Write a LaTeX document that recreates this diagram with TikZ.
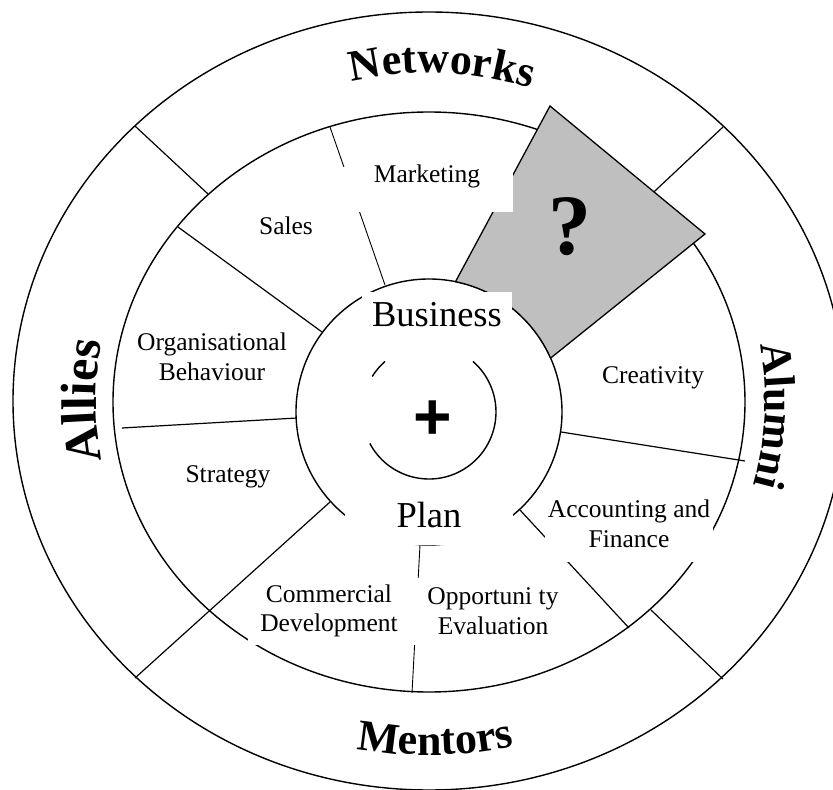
\documentclass[tikz,border=0pt]{standalone}
\usepackage{fontspec}
\setmainfont{Liberation Serif}
\newfontfamily\plusfont{Liberation Sans}
\usetikzlibrary{decorations.text}

\newcommand{\topicfont}{\fontsize{25.5}{29.5}\selectfont}
\newcommand{\titlefont}{\fontsize{36.5}{40}\selectfont}
\newcommand{\ringfont}{\bfseries\fontsize{44}{44}\selectfont}
\newcommand{\alliesfont}{\bfseries\fontsize{50}{50}\selectfont}

\begin{document}
\begin{tikzpicture}[x=1pt,y=1pt,
	ring/.style={line width=1.4pt},
	spoke/.style={line width=1.2pt},
	thinspoke/.style={line width=0.9pt},
	topic/.style={font=\topicfont,align=center,inner sep=0pt},
	maskbox/.style={topic,fill=white},
	ringlabel/.style={decorate,decoration={text along path,text align=center,text={#1}}}
	]
	\useasboundingbox (-429,-389) rectangle (404,401);
	% rings
	\draw[ring] (0,0) ellipse[x radius=416,y radius=389];
	\draw[ring] (0,-1) ellipse[x radius=316,y radius=290];
	\draw[ring] (0,-11) circle[radius=133];
	% spoke ends
	\coordinate (sm-out) at (-99,274);   \coordinate (sm-in) at (-44,116);
	\coordinate (os-out) at (-251,174);  \coordinate (os-in) at (-107,69);
	\coordinate (so-out) at (-307,-27);  \coordinate (so-in) at (-132,-17);
	\coordinate (cs-out) at (-294,-277); \coordinate (cs-in) at (-99,-101);
	\coordinate (oc-out) at (-17,-292);  \coordinate (oc-in) at (-9,-144);
	\coordinate (ao-out) at (200,-227);  \coordinate (ao-in) at (91,-109);
	\coordinate (ca-out) at (316,-60);   \coordinate (ca-in) at (132,-31);
	\coordinate (nw-out) at (-294,275);  \coordinate (nw-in) at (-221,207);
	\coordinate (ne-out) at (294,274);   \coordinate (ne-in) at (211,196);
	\coordinate (se-out) at (294,-278);  \coordinate (se-in) at (222,-209);
	\draw[thinspoke] (sm-out) -- (sm-in);
	\draw[spoke] (os-out) -- (os-in);
	\draw[spoke] (so-out) -- (so-in);
	\draw[spoke] (cs-out) -- (cs-in);
	\draw[thinspoke] (oc-out) -- (oc-in);
	\draw[spoke] (ao-out) -- (ao-in);
	\draw[spoke] (ca-out) -- (ca-in);
	\draw[spoke] (nw-out) -- (nw-in);
	\draw[spoke] (ne-out) -- (ne-in);
	\draw[spoke] (se-out) -- (se-in);
	% the open sector
	\filldraw[fill=black!25,line width=1.3pt] (121,295) -- (276,167) -- ([shift={(0,-11)}]23.9:133)
		arc[start angle=23.9,end angle=78.5,radius=133] -- cycle;
	\draw[ring] ([shift={(0,-11)}]131:67) arc[start angle=131,end angle=148,radius=67];
	\draw[ring] ([shift={(0,-11)}]208:67) arc[start angle=208,end angle=409,radius=67];
	% sectors
	\node[topic] (sales) at (-143,175) {Sales};
	\node[maskbox,anchor=base,text height=16pt,text depth=29pt,minimum width=172pt] (marketing) at (-2,218) {Marketing};
	\node[topic] (orgbeh) at (-217,44) {Organisational\\Behaviour};
	\node[topic] (strategy) at (-201,-76) {Strategy};
	\node[topic] (creativity) at (224,23) {Creativity};
	\node[maskbox,minimum width=167pt,minimum height=76pt] (accfin) at (200,-123) {Accounting and\\Finance};
	\node[maskbox,minimum width=162pt,minimum height=67pt] (oppeval) at (64,-210) {Opportuni ty\\Evaluation};
	\node[maskbox,minimum width=162pt,minimum height=67pt] (comdev) at (-100,-210) {Commercial\\Development};
	\node[maskbox,font=\titlefont,anchor=base,text height=35pt,text depth=34pt,minimum width=150pt] (business) at (8,74) {Business};
	\node[maskbox,font=\titlefont,anchor=base,text height=31pt,text depth=18pt,minimum width=168pt] (plan) at (0,-126) {Plan};
	\node[font=\bfseries\fontsize{86}{86}\selectfont] (unknown) at (141,174) {?};
	\node[font=\plusfont\bfseries\fontsize{66}{66}\selectfont] (plus) at (4,-19) {+};
	% outer ring
	\path[ringlabel={|\ringfont|Networks}] (147.8:338 and 328) arc[start angle=147.8,end angle=27.8,x radius=338,y radius=328];
	\path[ringlabel={|\ringfont|Alumni}] (40:336 and 321) arc[start angle=40,end angle=-45,x radius=336,y radius=321];
	\path[ringlabel={|\alliesfont|Allies}] (225:333 and 321) arc[start angle=225,end angle=135,x radius=333,y radius=321];
	\path[ringlabel={|\ringfont|Mentors}] (226:380 and 354) arc[start angle=226,end angle=316,x radius=380,y radius=354];
\end{tikzpicture}
\end{document}
